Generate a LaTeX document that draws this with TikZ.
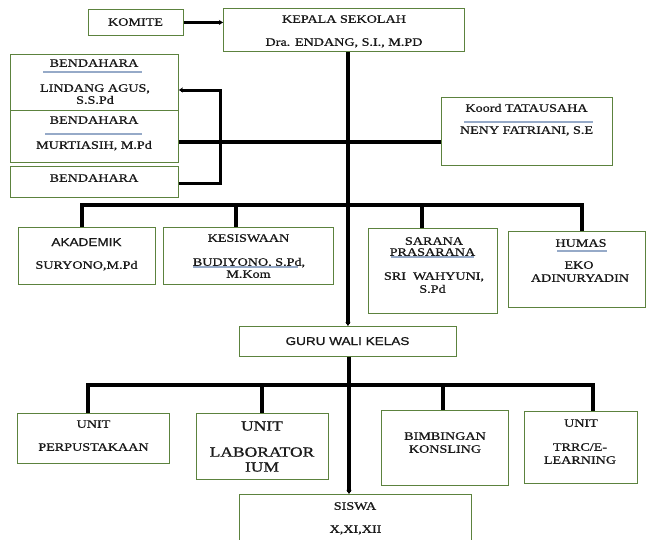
\documentclass[tikz,border=0pt]{standalone}
\usepackage{fontspec}
\setmainfont{Liberation Serif}[FakeStretch=1.25,FakeBold=0.9]
\setsansfont{Liberation Sans}[FakeStretch=1.2,FakeBold=0.9]
\usetikzlibrary{arrows.meta}
\definecolor{boxgreen}{RGB}{92,130,62}
\definecolor{seplc}{RGB}{150,170,200}
\begin{document}
\begin{tikzpicture}[x=1pt,y=-1pt,
  box/.style={draw=boxgreen, line width=0.9pt, inner sep=0pt, anchor=north west},
  txt/.style={inner sep=0pt, text height=7.5pt, text depth=0pt, font=\fontsize{11.3}{13}\selectfont, text=black!90},
  bigtxt/.style={inner sep=0pt, text height=9.3pt, text depth=0pt, font=\fontsize{14}{16}\selectfont, text=black!90},
  sep/.style={draw=seplc, line width=1.2pt},
  conn/.style={line width=3.3pt, draw=black, line join=miter},
  tip/.style={-{Stealth[length=4pt,width=5pt]}}]
\useasboundingbox (0,0) rectangle (646,539);
\clip (0,0) rectangle (646,539);
\fill[white] (0,0) rectangle (646,539);

% boxes
\node[box, minimum width=95pt, minimum height=26pt] (komite) at (88,9) {};
\node[box, minimum width=241pt, minimum height=43pt] (kepala) at (223,8) {};
\node[box, minimum width=168pt, minimum height=56pt] (b1) at (10,54) {};
\node[box, minimum width=168pt, minimum height=52pt] (b2) at (10,110) {};
\node[box, minimum width=168pt, minimum height=31pt] (b3) at (10,166) {};
\node[box, minimum width=171pt, minimum height=68pt] (tata) at (441,97) {};
\node[box, minimum width=137pt, minimum height=57pt] (akad) at (18,227) {};
\node[box, minimum width=170pt, minimum height=57pt] (kesis) at (163,227) {};
\node[box, minimum width=129pt, minimum height=85pt] (sarana) at (368,228) {};
\node[box, minimum width=137pt, minimum height=76pt] (humas) at (508,231) {};
\node[box, minimum width=217pt, minimum height=30pt] (guru) at (239,326) {};
\node[box, minimum width=152pt, minimum height=50pt] (perp) at (17,413) {};
\node[box, minimum width=132pt, minimum height=66pt] (lab) at (196,413) {};
\node[box, minimum width=127pt, minimum height=75pt] (bimb) at (381,410) {};
\node[box, minimum width=113pt, minimum height=72pt] (trrc) at (524,411) {};
\node[box, minimum width=232pt, minimum height=60pt] (siswa) at (239,494) {};

% texts
\node[txt] (tkom) at (135.5,22) {KOMITE};
\node[txt] (tkep1) at (344,19) {KEPALA SEKOLAH};
\node[txt] (tkep2) at (344,42) {Dra. ENDANG, S.I., M.PD};
\node[txt] (tb1a) at (94,63) {BENDAHARA};
\node[txt] (tb1b) at (95,88) {LINDANG AGUS,};
\node[txt] (tb1c) at (95,100) {S.S.Pd};
\node[txt] (tb2a) at (94,120) {BENDAHARA};
\node[txt] (tb2b) at (94,145) {MURTIASIH, M.Pd};
\node[txt] (tb3a) at (94,178) {BENDAHARA};
\node[txt] (tta1) at (526.5,108) {Koord TATAUSAHA};
\node[txt] (tta2) at (526.5,130) {NENY FATRIANI, S.E};
\node[txt, font=\sffamily\fontsize{11.3}{13}\selectfont, text height=8pt] (tak1) at (86.5,242) {AKADEMIK};
\node[txt] (tak2) at (86.5,265) {SURYONO,M.Pd};
\node[txt] (tke1) at (248.5,238) {KESISWAAN};
\node[txt] (tke2) at (249,262) {BUDIYONO, S.Pd,};
\node[txt] (tke3) at (248.5,274) {M.Kom};
\node[txt] (tsa1) at (434,241) {SARANA};
\node[txt] (tsa2) at (432.5,252) {PRASARANA};
\node[txt] (tsa3) at (434,276) {SRI\ \ WAHYUNI,};
\node[txt] (tsa4) at (432.5,289) {S.Pd};
\node[txt] (thu1) at (581,243) {HUMAS};
\node[txt] (thu2) at (579,265) {EKO};
\node[txt] (thu3) at (580,278) {ADINURYADIN};
\node[txt, font=\sffamily\fontsize{11.3}{13}\selectfont, text height=8pt] (tgu) at (347.5,341) {GURU WALI KELAS};
\node[txt] (tpe1) at (93.5,424) {UNIT};
\node[txt] (tpe2) at (93.5,447) {PERPUSTAKAAN};
\node[bigtxt] (tla1) at (262,426) {UNIT};
\node[bigtxt] (tla2) at (262,452) {LABORATOR};
\node[bigtxt] (tla3) at (262,467) {IUM};
\node[txt] (tbi1) at (445,436) {BIMBINGAN};
\node[txt] (tbi2) at (445,449) {KONSLING};
\node[txt] (ttr1) at (581,423) {UNIT};
\node[txt] (ttr2) at (580,447) {TRRC/E-};
\node[txt] (ttr3) at (580,460) {LEARNING};
\node[txt] (tsi1) at (355,506) {SISWA};
\node[txt] (tsi2) at (355.5,529) {X,XI,XII};

% separators
\draw[sep] (43,72) -- (142,72);
\draw[sep] (45,134) -- (142,134);
\draw[sep] (464,122) -- (593,122);
\draw[sep] (193,267) -- (298,267);
\draw[sep] (391,257) -- (474,257);
\draw[sep] (557,251) -- (607,251);

% coordinates
\coordinate (hb) at (0,142);
\coordinate (brt) at (220,90);
\coordinate (brb) at (220,183);
\coordinate (d1) at (82,205);
\coordinate (d2) at (236,205);
\coordinate (d3) at (422,205);
\coordinate (d4) at (582,205);
\coordinate (e1) at (88,385);
\coordinate (e2) at (262,385);
\coordinate (e3) at (443,385);
\coordinate (e4) at (593,385);

% connectors
\draw[conn, tip] (komite.east) -- (komite.east -| kepala.west);
\draw[conn, tip] (kepala.south -| guru.north) -- (guru.north);
\draw[conn, tip] (guru.south -| 349,0) -- (siswa.north -| 349,0);
\draw[conn] (b2.east |- hb) -- (tata.west |- hb);
\draw[conn, line width=3pt, tip] (b3.east |- brb) -- (brb) -- (brt) -- (b1.east |- brt);
\draw[conn] (akad.north -| d1) -- (d1) -- (d4) -- (humas.north -| d4);
\draw[conn] (d2) -- (kesis.north -| d2);
\draw[conn] (d3) -- (sarana.north -| d3);
\draw[conn] (perp.north -| e1) -- (e1) -- (e4) -- (trrc.north -| e4);
\draw[conn] (e2) -- (lab.north -| e2);
\draw[conn] (e3) -- (bimb.north -| e3);
\end{tikzpicture}
\end{document}
